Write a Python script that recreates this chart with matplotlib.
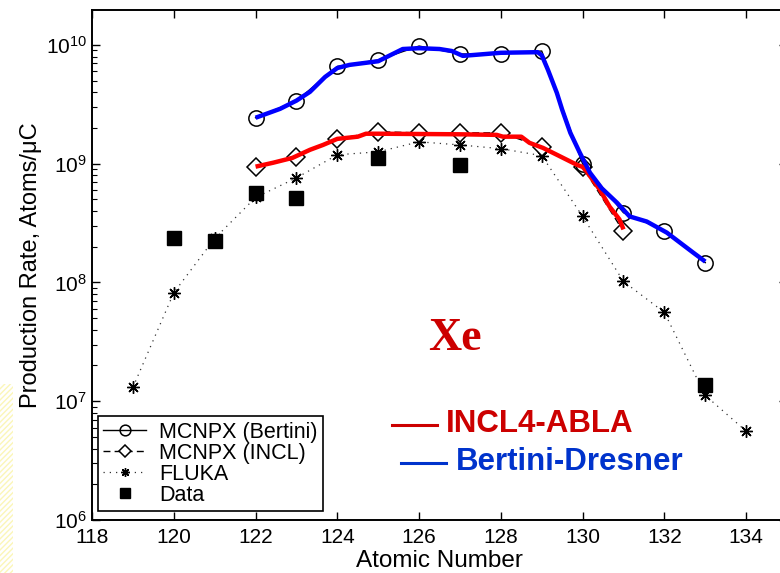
import numpy as np
import matplotlib
matplotlib.use('Agg')
import matplotlib.pyplot as plt
from matplotlib.patches import Rectangle

plt.rcParams['font.family'] = ['Liberation Sans', 'DejaVu Sans']
plt.rcParams['mathtext.fontset'] = 'custom'
plt.rcParams['mathtext.rm'] = 'Liberation Sans'
plt.rcParams['mathtext.default'] = 'regular'

# MCNPX with Bertini cascade (circles)
bertini_z = [122, 123, 124, 125, 126, 127, 128, 129, 130, 131, 132, 133]
bertini_y = [2.44e9, 3.38e9, 6.6e9, 7.48e9, 9.8e9, 8.4e9, 8.4e9, 8.9e9,
             1.0e9, 3.87e8, 2.74e8, 1.47e8]

# MCNPX with INCL cascade (diamonds)
incl_z = [122, 123, 124, 125, 126, 127, 128, 129, 130, 131]
incl_y = [9.45e8, 1.15e9, 1.62e9, 1.86e9, 1.82e9, 1.82e9, 1.82e9, 1.39e9,
          9.4e8, 2.69e8]

# FLUKA (asterisks, dotted)
fluka_z = [119, 120, 121, 122, 123, 124, 125, 126, 127, 128, 129, 130, 131,
           132, 133, 134]
fluka_y = [1.31e7, 8.2e7, 2.35e8, 5.2e8, 7.6e8, 1.19e9, 1.26e9, 1.53e9,
           1.44e9, 1.34e9, 1.17e9, 3.6e8, 1.02e8, 5.6e7, 1.12e7, 5.6e6]

# measured data (filled squares)
data_z = [120, 121, 122, 123, 125, 127, 133]
data_y = [2.39e8, 2.25e8, 5.7e8, 5.18e8, 1.12e9, 9.8e8, 1.36e7]

# INCL4-ABLA calculation (red curve)
abla_z = [122, 122.43, 122.9, 123.33, 123.65, 124, 124.5, 124.7, 125, 126,
          127, 127.9, 128.05, 128.5, 128.7, 129.03, 129.37, 129.86, 130,
          130.1, 130.42, 130.66, 130.9, 131]
abla_y = [9.45e8, 1.02e9, 1.12e9, 1.31e9, 1.44e9, 1.62e9, 1.69e9, 1.79e9,
          1.79e9, 1.78e9, 1.77e9, 1.75e9, 1.69e9, 1.69e9, 1.5e9, 1.36e9,
          1.19e9, 9.8e8, 9.4e8, 8.6e8, 6.05e8, 4.35e8, 3.4e8, 2.8e8]

# Bertini-Dresner calculation (blue curve)
dres_z = [122, 122.6, 123, 123.33, 123.7, 124, 124.3, 125, 125.2, 125.6, 126,
          126.5, 126.8, 127.07, 128, 128.9, 129.0, 129.15, 129.37, 129.5,
          129.7, 129.93, 130.18, 130.47, 130.84, 131.15, 131.57, 132.06,
          132.45, 132.7, 133]
dres_y = [2.44e9, 2.9e9, 3.4e9, 4.03e9, 5.38e9, 6.4e9, 6.8e9, 7.3e9, 7.9e9,
          9.25e9, 9.4e9, 9.25e9, 8.9e9, 8.1e9, 8.6e9, 8.7e9, 8.2e9, 6.2e9,
          3.95e9, 2.85e9, 1.82e9, 1.24e9, 8.4e8, 6.2e8, 4.7e8, 3.6e8, 3.26e8,
          2.63e8, 2.08e8, 1.79e8, 1.5e8]

fig = plt.figure(figsize=(7.8, 5.73), dpi=100)
H = 573  # figure height in pixels, for placing the key in pixel units

# axes run slightly past the right edge of the figure
ax = fig.add_axes([0.118, 0.0925, 0.891, 0.890])

# faint yellow hatch along the left margin
fig.patches.append(Rectangle((0, 0), 0.017, 0.33, transform=fig.transFigure,
                             facecolor='none', edgecolor='#fbf6b8',
                             hatch='//////', lw=0, zorder=0))

ax.plot(fluka_z, fluka_y, color='#333333', ls=(0, (1, 4)), lw=0.9,
        marker=(8, 2, 0), ms=9, mew=1.0, mec='black', label='FLUKA',
        zorder=3)
ax.plot(data_z, data_y, ls='none', marker='s', ms=10, color='black',
        label='Data', zorder=4)
ax.plot(incl_z, incl_y, color='black', ls=(0, (5, 3)), lw=1.0, marker='D',
        ms=9, mfc='white', mec='black', mew=1.1, label='MCNPX (INCL)', zorder=3)
ax.plot(bertini_z, bertini_y, color='black', ls='-', lw=1.0, marker='o',
        ms=11, mfc='none', mec='black', mew=1.1, label='MCNPX (Bertini)',
        zorder=3)

ax.plot(abla_z, abla_y, color='#ff0000', lw=3.2, solid_capstyle='butt',
        zorder=5)
ax.plot(dres_z, dres_y, color='#0000ff', lw=3.2, solid_capstyle='butt',
        zorder=5)

ax.set_yscale('log')
ax.set_xlim(118, 135)
ax.set_ylim(1e6, 1.97e10)
ax.set_xticks(np.arange(118, 135, 2))
ax.tick_params(axis='both', which='both', direction='in', top=True,
               right=True, labelsize=15)
ax.tick_params(which='major', length=6, width=1.0)
ax.tick_params(which='minor', length=3.5, width=0.8)
ax.tick_params(axis='x', pad=6)
for s in ax.spines.values():
    s.set_linewidth(1.4)

ax.set_xlabel('Atomic Number', fontsize=17.5, labelpad=2)
ax.set_ylabel('Production Rate, Atoms/\u03bcC', fontsize=17, labelpad=3)

handles, labels = ax.get_legend_handles_labels()
order = [3, 2, 0, 1]
leg = ax.legend([handles[i] for i in order], [labels[i] for i in order],
                loc='lower left', bbox_to_anchor=(6 / 695, 9 / 510),
                borderaxespad=0, fontsize=15.5, frameon=True, fancybox=False,
                framealpha=1, edgecolor='black', handlelength=2.0,
                handletextpad=0.6, borderpad=0.25, labelspacing=0.0,
                markerscale=0.7)
leg.get_frame().set_linewidth(1.2)

# element label and model key (pixel coordinates)
ax.text(455, H - 339, 'Xe', transform=None, color='#cc0000', fontsize=33,
        fontweight='bold', family='Liberation Serif', ha='center',
        va='center')
ax.plot([392, 437], [H - 425, H - 425], transform=None, color='#cc0000',
        lw=2.2, clip_on=False)
ax.text(446, H - 424, 'INCL4-ABLA', transform=None, color='#cc0000',
        fontsize=22.5, fontweight='bold', ha='left', va='center')
ax.plot([401, 446], [H - 463, H - 463], transform=None, color='#0033cc',
        lw=2.2, clip_on=False)
ax.text(456, H - 462, 'Bertini-Dresner', transform=None, color='#0033cc',
        fontsize=22.5, fontweight='bold', ha='left', va='center')

fig.savefig('out.png', dpi=100)
